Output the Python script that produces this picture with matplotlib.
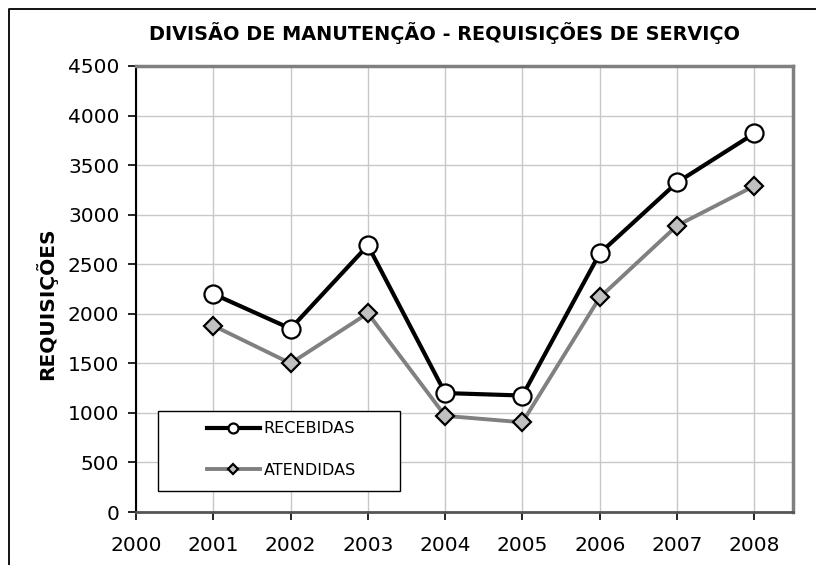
import matplotlib
matplotlib.use("Agg")
import matplotlib.pyplot as plt
from matplotlib.lines import Line2D
from matplotlib.patches import Rectangle

years = [2001, 2002, 2003, 2004, 2005, 2006, 2007, 2008]
recebidas = [2200, 1850, 2690, 1200, 1175, 2610, 3325, 3820]
atendidas = [1880, 1500, 2005, 970, 905, 2165, 2890, 3290]
x_ticks = list(range(2000, 2009))
y_ticks = list(range(0, 4501, 500))

title = "DIVISÃO DE MANUTENÇÃO - REQUISIÇÕES DE SERVIÇO"
ylabel = "REQUISIÇÕES"

plt.rcParams["font.family"] = ["DejaVu Sans"]

fig = plt.figure(figsize=(8.16, 5.65), dpi=100)
ax = fig.add_axes([136 / 816, 53 / 565, 657 / 816, 446 / 565])

ax.plot(years, recebidas, color="black", lw=3, marker="o", ms=13,
        mfc="white", mec="black", mew=1.6, label="RECEBIDAS", zorder=4)
ax.plot(years, atendidas, color="#808080", lw=2.8, marker="D", ms=9.5,
        mfc="#c0c0c0", mec="black", mew=1.6, label="ATENDIDAS", zorder=3)

ax.set_xlim(2000, 2008.5)
ax.set_ylim(0, 4500)
ax.set_xticks(x_ticks)
ax.set_yticks(y_ticks)
ax.grid(True, color="#c8c8c8", lw=1)
ax.set_axisbelow(True)

ax.tick_params(axis="both", direction="out", length=6, width=1.2,
               color="black", labelsize=14.5)
ax.tick_params(axis="x", pad=11)
ax.tick_params(axis="y", pad=6)

for side in ("top", "right"):
    ax.spines[side].set_color("#808080")
    ax.spines[side].set_linewidth(2.5)
ax.spines["bottom"].set_color("#555555")
ax.spines["bottom"].set_linewidth(2)
ax.spines["left"].set_color("black")
ax.spines["left"].set_linewidth(1.5)

ax.set_ylabel(ylabel, fontsize=14.5, fontweight="bold")
ax.yaxis.set_label_coords(-0.120, 0.466)

fig.text(445 / 816, 1 - 33 / 565, title, ha="center", va="center",
         fontsize=13.9, fontweight="bold")

# legend box drawn separately so the handles can sit indented inside it
ax.add_patch(Rectangle((0.0335, 0.047), 0.3683, 0.1795, transform=ax.transAxes,
                       facecolor="white", edgecolor="black", lw=1, zorder=5))
leg = ax.legend(loc="upper left", bbox_to_anchor=(0.108, 0.203), frameon=False,
                fontsize=11.5, handlelength=3.3, handletextpad=0.25,
                labelspacing=1.65, borderpad=0, borderaxespad=0,
                markerscale=0.55)
leg.set_zorder(6)

# outer chart border (left and top edges visible in the crop)
fig.add_artist(Line2D([9 / 816, 9 / 816, 1], [0, 1 - 9 / 565, 1 - 9 / 565],
                      transform=fig.transFigure, color="black", lw=1.3))

fig.savefig("out.png", dpi=100)
